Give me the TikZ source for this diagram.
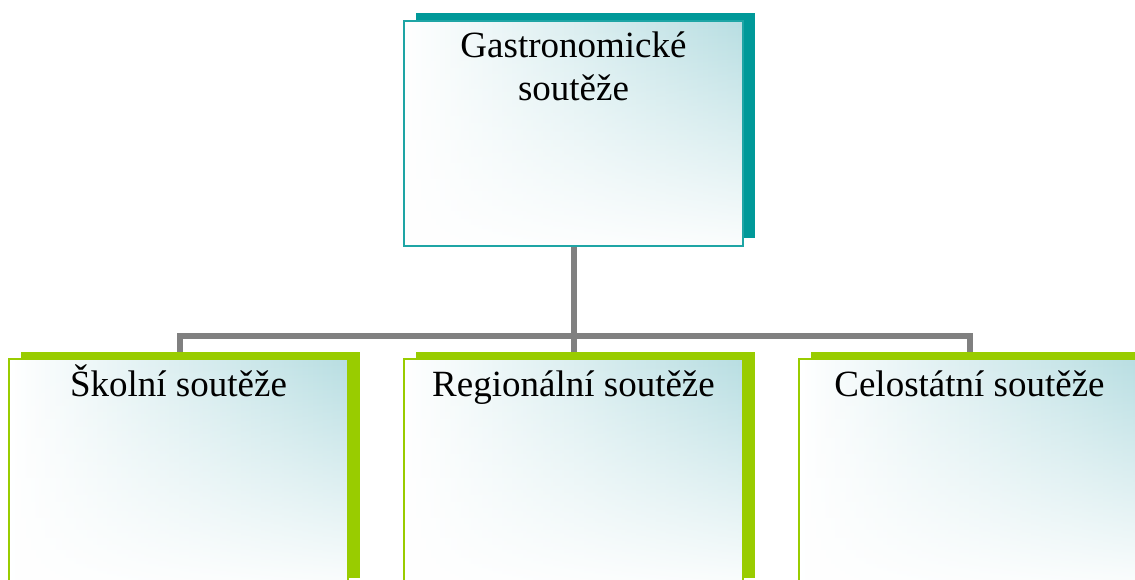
\documentclass[tikz,border=0pt]{standalone}
\usepackage{fontspec}
\setmainfont{Liberation Serif}
\usetikzlibrary{shadows,fadings,calc}
\definecolor{tealD}{HTML}{009999}
\definecolor{tealB}{RGB}{30,165,165}
\definecolor{greenD}{HTML}{99CC00}
\definecolor{tealL}{RGB}{184,222,226}
\definecolor{tealM}{RGB}{222,240,242}
\definecolor{lineG}{RGB}{128,128,128}
\pgfdeclarelayer{background}
\pgfsetlayers{background,main}
\tikzfading[name=fadeup, top color=transparent!100, middle color=transparent!70, bottom color=transparent!5]
\begin{document}
\begin{tikzpicture}[x=1pt,y=-1pt,
  shade box/.style={path picture={
    \fill[left color=white, middle color=tealM, right color=tealL] (path picture bounding box.south west) rectangle (path picture bounding box.north east);
    \fill[white, path fading=fadeup] (path picture bounding box.south west) rectangle (path picture bounding box.north east);}},
  topbox/.style={shade box, draw=tealB, line width=1.5pt, minimum width=339pt, minimum height=225pt, inner sep=0pt,
    general shadow={shadow xshift=12pt, shadow yshift=8pt, fill=tealD}},
  subbox/.style={shade box, draw=greenD, line width=2.5pt, minimum width=339pt, minimum height=226pt, inner sep=0pt,
    general shadow={shadow xshift=12pt, shadow yshift=7pt, fill=greenD}},
  lbl/.style={font=\fontsize{37}{43}\selectfont, inner sep=0pt, align=center},
  conn/.style={draw=lineG, line width=6pt, line join=miter}
]
\useasboundingbox (0,0) rectangle (1135,579);
\clip (0,0) rectangle (1135,579);

\node[topbox] (g) at (573.5,133.5) {};
\node[subbox] (s) at (178.5,472) {};
\node[subbox] (r) at (573.5,472) {};
\node[subbox] (c) at (968.5,472) {};

\node[lbl, anchor=base] (gt) at (573.5,100) {Gastronomické\\soutěže};
\node[lbl, anchor=base] (st) at (178.5,396) {Školní soutěže};
\node[lbl, anchor=base] (rt) at (573.5,396) {Regionální soutěže};
\node[lbl, anchor=base] (ct) at (969.5,396) {Celostátní soutěže};

\coordinate (bus) at (574.5,336);
\begin{pgfonlayer}{background}
\draw[conn] (g.south) -- (r.north);
\draw[conn] ([xshift=1.5pt]s.north) -- ([xshift=1.5pt]s.north |- bus) -- ([xshift=1pt]c.north |- bus) -- ([xshift=1pt]c.north);
\end{pgfonlayer}
\end{tikzpicture}
\end{document}
